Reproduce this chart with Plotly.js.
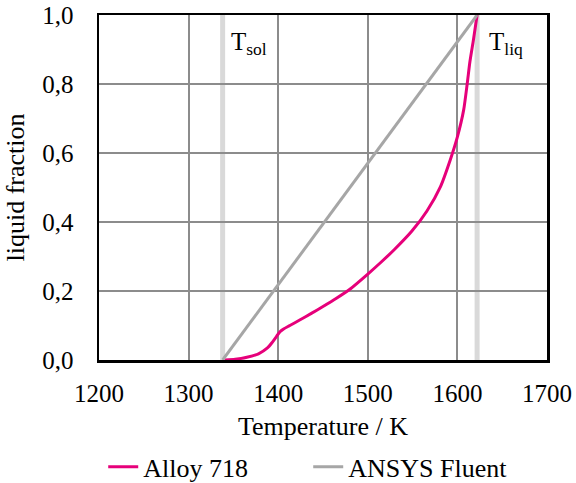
<!DOCTYPE html>
<html>
<head>
<meta charset="utf-8">
<script src="https://cdn.plot.ly/plotly-3.0.1.min.js"></script>
<style>html,body{margin:0;padding:0;background:#fff;}#chart{width:576px;height:483px;}</style>
</head>
<body>
<div id="chart"></div>
<script>
// Alloy 718 liquid fraction vs temperature
const alloyT = [1340.5, 1352, 1365, 1378, 1388, 1393, 1398, 1402, 1406, 1413, 1424, 1437, 1450, 1465, 1480, 1500, 1515, 1530, 1549, 1566, 1581, 1592, 1600, 1607, 1611, 1614, 1618, 1622];
const alloyF = [0.0, 0.002, 0.008, 0.018, 0.035, 0.05, 0.068, 0.082, 0.09, 0.1, 0.116, 0.135, 0.155, 0.179, 0.205, 0.249, 0.284, 0.321, 0.373, 0.432, 0.502, 0.58, 0.647, 0.725, 0.802, 0.865, 0.93, 1.0];
// ANSYS Fluent linear model
const fluentT = [1338, 1622];
const fluentF = [0.0, 1.0];
// Solidus / liquidus marker lines
const Tsol = 1338;
const Tliq = 1622;
const xTicks = [1200, 1300, 1400, 1500, 1600, 1700];
const yTicks = [0, 0.2, 0.4, 0.6, 0.8, 1.0];

const font = '"Liberation Serif", "Times New Roman", serif';

const traces = [
  {x: alloyT, y: alloyF, mode: 'lines', name: 'Alloy 718', line: {color: '#e6007a', width: 3, shape: 'spline', smoothing: 0.6}},
  {x: fluentT, y: fluentF, mode: 'lines', name: 'ANSYS Fluent', line: {color: '#a6a6a6', width: 3}}
];

const layout = {
  width: 576, height: 483,
  margin: {l: 99, r: 29, t: 15, b: 123, autoexpand: false},
  paper_bgcolor: '#fff', plot_bgcolor: '#fff',
  separators: ',.',
  font: {family: font, size: 25, color: '#000'},
  showlegend: true,
  legend: {orientation: 'h', x: 0.467, xanchor: 'center', y: -0.31, yanchor: 'middle', font: {family: font, size: 26}, itemwidth: 30, entrywidth: 160},
  xaxis: {
    range: [1200, 1700], tickvals: xTicks, ticktext: xTicks.map(String),
    tickfont: {family: font, size: 25},
    showgrid: true, gridcolor: '#8c8c8c', gridwidth: 2,
    showline: true, linecolor: '#000', linewidth: 2.5, mirror: true,
    zeroline: false, ticks: '', ticklabelstandoff: 9,
    title: {text: 'Temperature / K', font: {family: font, size: 26}, standoff: 12}
  },
  yaxis: {
    range: [0, 1], tickvals: yTicks, tickformat: '.1f',
    tickfont: {family: font, size: 25},
    showgrid: true, gridcolor: '#8c8c8c', gridwidth: 2,
    showline: true, linecolor: '#000', linewidth: 2.5, mirror: true,
    zeroline: false, ticks: '', ticklabelstandoff: 18,
    title: {text: 'liquid fraction', font: {family: font, size: 26}, standoff: 10}
  },
  shapes: [
    {type: 'line', xref: 'x', yref: 'y', x0: Tsol, x1: Tsol, y0: 0, y1: 1, layer: 'below', line: {color: '#d9d9d9', width: 5}},
    {type: 'line', xref: 'x', yref: 'y', x0: Tliq, x1: Tliq, y0: 0, y1: 1, layer: 'below', line: {color: '#d9d9d9', width: 5}}
  ],
  annotations: [
    {xref: 'x', yref: 'y', x: Tsol, y: 0.99, xanchor: 'left', yanchor: 'top', xshift: 6, yshift: -8, showarrow: false,
     text: 'T<sub>sol</sub>', font: {family: font, size: 25}},
    {xref: 'x', yref: 'y', x: Tliq, y: 0.99, xanchor: 'left', yanchor: 'top', xshift: 10, yshift: -8, showarrow: false,
     text: 'T<sub>liq</sub>', font: {family: font, size: 25}}
  ]
};

Plotly.newPlot('chart', traces, layout, {displayModeBar: false, staticPlot: true});
</script>
</body>
</html>
